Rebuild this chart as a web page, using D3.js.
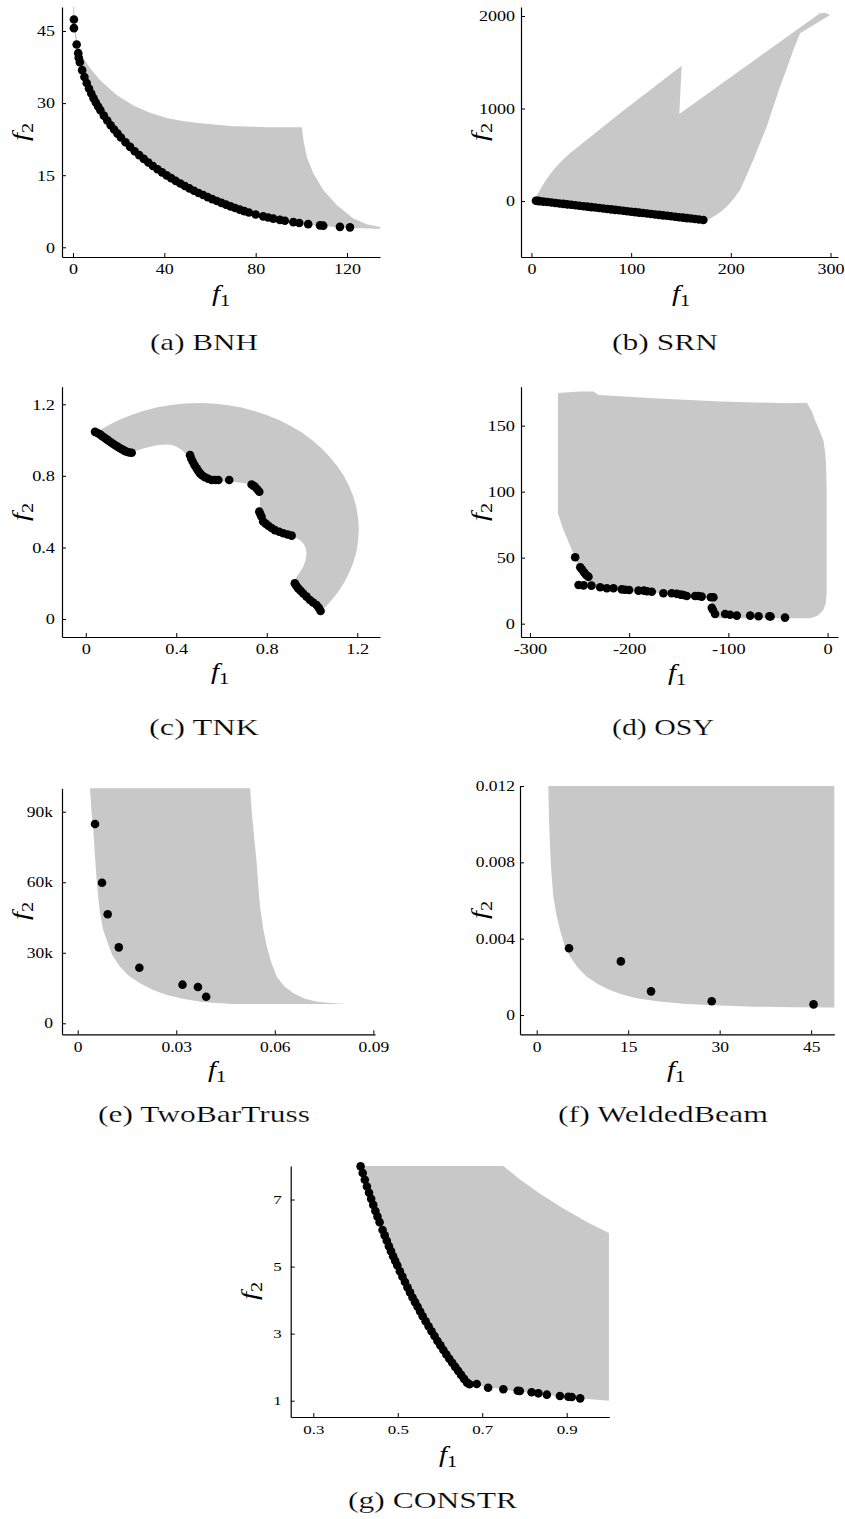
<!DOCTYPE html>
<html lang="en">
<head>
<meta charset="utf-8">
<title>Pareto fronts</title>
<script src="https://d3js.org/d3.v7.min.js"></script>
<style>
  body { margin: 0; background: #fff; }
  svg text { font-family: "Liberation Serif", "Times New Roman", serif; font-weight: normal; fill: #000; }
  .caption { stroke: #fff; stroke-width: 0.2px; }
</style>
</head>
<body>
<div id="viz"></div>
<script>

// ---- data ----

// (a) BNH
var bnhRegion = [[0.4,50],[1.3,44.5],[2,42.5],[3.1,41],[5,39],[7.4,37.3],[11.8,34.8],[19.1,31.7],[26.4,29.5],[33.7,28],[41,26.9],[48,26.3],[55.6,25.8],[70.2,25.2],[84.8,25],[100.2,25],[100.9,22.3],[102.4,18.8],[105.2,15.4],[109.6,11.9],[115.5,8.8],[122.8,6],[128.6,4.8],[134.5,4.2],[134.5,3.8],[122.5,4.05],[110,4.4],[100,4.9],[90,5.7],[80,6.7],[72,8],[60,10.2],[50,12.5],[40,15.3],[30,18.8],[20,23.4],[15,26.4],[10,30.1],[5,35.4],[2,40.5],[0.5,45.1],[0,50]];
var bnhFront = [[0.4,47.4],[0.4,45.6],[1.6,42.2],[2.3,40.4],[2.5,39.45],[3,38.5],[4,36.86],[5,35.43],[6,34.18],[7,33.05],[8,32],[9,31.03],[10,30.14],[11,29.3],[12,28.5],[13.5,27.4],[15,26.37],[16.5,25.4],[18,24.5],[19.5,23.65],[21,22.85],[23,21.84],[25,20.89],[27,20],[29,19.17],[31,18.39],[33,17.63],[35,16.91],[37,16.23],[39,15.59],[41,14.97],[43,14.39],[45,13.81],[47,13.27],[49,12.75],[51,12.25],[53,11.77],[55,11.31],[57,10.87],[59,10.43],[61,10.03],[63,9.63],[65,9.25],[67,8.87],[69,8.51],[71,8.17],[73,7.84],[75,7.53],[77,7.23],[80,6.83],[83.3,6.44],[85.5,6.2],[87.7,5.97],[90.6,5.7],[92.8,5.52],[96.5,5.23],[99.1,5.06],[103,4.82],[108.2,4.56],[109.6,4.5],[116.9,4.25],[121.3,4.15]];

// (b) SRN
var srnRegion = [[5.2,54],[6.5,85],[8.5,119],[14,220],[21.9,335],[30,430],[38.6,516],[88.8,948],[150.7,1463],[148.3,941],[289.4,2030],[294.5,2036],[299.5,2011],[269.4,1813],[262.7,1632],[256,1430],[249.3,1236],[242.6,1020],[236,803],[229,620],[222.5,443],[216,280],[209.2,119],[202.5,20],[195.8,-62],[189,-125],[182.4,-170],[175.8,-213],[172.4,-209],[4.5,-3]];
var srnFront = [[4.5,3],[6,1.1],[8,-1.3],[12,-6.3],[16,-11.2],[20,-16.2],[24,-21.2],[28,-26.1],[32,-31.1],[36,-36],[40,-41],[44,-45.9],[48,-50.9],[52,-55.9],[56,-60.8],[60,-65.8],[64,-70.7],[68,-75.7],[72,-80.6],[76,-85.6],[80,-90.5],[84,-95.5],[88,-100.5],[92,-105.4],[96,-110.4],[100,-115.3],[104,-120.3],[108,-125.2],[112,-130.2],[116,-135.1],[120,-140.1],[124,-145.1],[128,-150],[132,-155],[136,-159.9],[140,-164.9],[144,-169.8],[148,-174.8],[152,-179.8],[156,-184.7],[160,-189.7],[164,-194.6],[168,-199.6],[172.4,-205]];

// (c) TNK: inner wavy edge, then the outer arc
var tnkRegion = [[0.041,1.046],[0.063,1.032],[0.093,1.004],[0.122,0.978],[0.152,0.954],[0.181,0.935],[0.21,0.935],[0.25,0.952],[0.284,0.963],[0.32,0.972],[0.358,0.976],[0.382,0.972],[0.402,0.963],[0.422,0.948],[0.439,0.926],[0.455,0.898],[0.468,0.87],[0.485,0.84],[0.505,0.814],[0.532,0.792],[0.564,0.777],[0.61,0.768],[0.652,0.767],[0.711,0.758],[0.74,0.748],[0.755,0.73],[0.766,0.705],[0.77,0.683],[0.77,0.609],[0.775,0.578],[0.784,0.553],[0.81,0.522],[0.844,0.497],[0.885,0.477],[0.917,0.46],[0.945,0.443],[0.961,0.423],[0.972,0.397],[0.976,0.367],[0.972,0.328],[0.961,0.292],[0.946,0.262],[0.932,0.236],[0.917,0.199],[1.035,0.05],
  [1.042,0.045],[1.079,0.094],[1.112,0.146],[1.141,0.201],[1.164,0.258],[1.183,0.317],[1.196,0.377],[1.204,0.438],[1.207,0.5],[1.204,0.562],[1.196,0.623],[1.183,0.683],[1.164,0.742],[1.141,0.799],[1.112,0.854],[1.079,0.906],[1.042,0.955],[1,1],[0.955,1.042],[0.906,1.079],[0.854,1.112],[0.799,1.141],[0.742,1.164],[0.683,1.183],[0.623,1.196],[0.562,1.204],[0.5,1.207],[0.438,1.204],[0.377,1.196],[0.317,1.183],[0.258,1.164],[0.201,1.141],[0.146,1.112],[0.094,1.079],[0.045,1.042]];
var tnkFront = [[0.041,1.046],[0.052,1.04],[0.063,1.032],[0.073,1.022],[0.083,1.013],[0.093,1.004],[0.103,0.995],[0.112,0.987],[0.122,0.978],[0.132,0.97],[0.142,0.962],[0.152,0.954],[0.162,0.947],[0.172,0.94],[0.181,0.935],[0.192,0.931],[0.203,0.929],
  [0.461,0.916],[0.466,0.897],[0.473,0.879],[0.481,0.86],[0.49,0.842],[0.497,0.828],[0.505,0.814],[0.515,0.802],[0.527,0.792],[0.541,0.784],[0.556,0.777],[0.571,0.777],[0.586,0.777],[0.634,0.777],
  [0.733,0.752],[0.741,0.745],[0.748,0.739],[0.758,0.725],[0.767,0.711],
  [0.767,0.6],[0.772,0.586],[0.777,0.572],[0.784,0.545],[0.795,0.533],[0.807,0.521],[0.821,0.509],[0.836,0.497],[0.855,0.488],[0.873,0.479],[0.892,0.472],[0.91,0.466],
  [0.924,0.199],[0.931,0.185],[0.939,0.171],[0.95,0.157],[0.961,0.143],[0.976,0.125],[0.991,0.106],[1.005,0.092],[1.02,0.078],[1.03,0.062],[1.038,0.045]];

// (d) OSY
var osyRegion = [[-271.8,174.8],[-249.3,175.8],[-236,175.8],[-231,173.3],[-175.5,170.8],[-108.4,168.2],[-41.2,167],[-21,167.4],[-16,161],[-12.7,154.3],[-8,146],[-4.3,139.2],[-2.5,130],[-1.6,121.5],[-0.9,100],[-0.9,83.6],[-0.9,23],[-2,15],[-4.3,10.4],[-10,6],[-17.7,4.1],[-113,4.1],[-116,8],[-117.5,19.5],[-130,20],[-150,21.8],[-180,23.8],[-200,25],[-230,27],[-242.6,29],[-248,37],[-254,49],[-260,60],[-266.2,71],[-271.8,83.6]];
var osyFront = [[-254.4,50.3],[-249.3,42.7],[-247.5,41],[-245.5,39],[-243.5,37],[-241,35.6],[-251,29.3],[-246,29],[-238,28.8],[-229.2,27.6],[-222.5,26.8],[-215.8,26.8],[-207.4,26],[-204,25.7],[-200,25.5],[-190.6,25],[-185,25],[-182,24.5],[-177.2,24.2],[-165.5,23],[-157.1,23],[-152,22.6],[-148,22],[-145.3,21.7],[-142,21],[-133.6,21],[-130.3,21],[-126.9,20.5],[-117.7,20],[-115.1,20],[-116.7,12.1],[-115.5,10.3],[-113.4,7.3],[-103.3,7.3],[-98.3,6.8],[-91.5,6.1],[-78,6.1],[-69.6,5.6],[-58.7,5.6],[-57.5,5.4],[-42.9,4.6]];

// (e) TwoBarTruss
var tbtRegion = [[0.00375,100000],[0.0042,90000],[0.00475,82250],[0.0052,72000],[0.00578,61000],[0.0063,53000],[0.0068,46800],[0.0077,40000],[0.00883,35450],[0.0105,29000],[0.0129,24100],[0.0157,20000],[0.019,17000],[0.0228,14300],[0.0271,12050],[0.032,10400],[0.0373,9200],[0.042,8600],[0.0474,8200],[0.0819,8200],[0.077,8600],[0.0728,9200],[0.069,10600],[0.0657,12750],[0.063,15500],[0.0606,19850],[0.059,25500],[0.0576,32600],[0.0565,40000],[0.0555,49600],[0.055,58000],[0.0545,68100],[0.0538,78000],[0.053,89400],[0.0525,100000]];
var tbtFront = [[0.00527,84800],[0.0074,59800],[0.00913,46400],[0.0125,32300],[0.01877,23650],[0.0319,16430],[0.0366,15450],[0.0391,11320]];

// (f) WeldedBeam
var wbRegion = [[1.9,0.012],[2,0.0105],[2.18,0.00882],[2.4,0.0075],[2.73,0.0062],[3.2,0.0053],[3.82,0.00446],[4.5,0.0037],[5.46,0.00306],[6.7,0.0025],[8.2,0.00201],[10,0.00163],[12,0.00131],[14,0.00107],[16.4,0.000874],[20,0.00071],[24.6,0.000577],[30,0.0005],[35.5,0.000437],[42,0.00041],[48.8,0.0004],[48.8,0.012]];
var wbFront = [[5.3,0.0035],[13.8,0.00281],[18.75,0.00124],[28.7,0.00072],[45.4,0.00056]];

// (g) CONSTR
var conRegion = [[0.412,8],[0.412,7.99],[0.432,7.2],[0.452,6.49],[0.474,5.77],[0.499,5.03],[0.523,4.38],[0.547,3.8],[0.573,3.22],[0.601,2.65],[0.629,2.13],[0.657,1.65],[0.67,1.49],[0.7,1.429],[0.75,1.333],[0.8,1.25],[0.85,1.176],[0.9,1.111],[0.95,1.053],[1,1],[1,6],[0.948,6.33],[0.892,6.73],[0.837,7.17],[0.79,7.59],[0.75,8]];
var conFront = [[0.412,7.99],[0.417,7.79],[0.422,7.59],[0.427,7.39],[0.432,7.2],[0.437,7.02],[0.442,6.84],[0.447,6.66],[0.452,6.49],[0.457,6.32],[0.464,6.09],[0.469,5.93],[0.474,5.77],[0.479,5.61],[0.484,5.46],[0.489,5.31],[0.494,5.17],[0.499,5.03],[0.505,4.86],[0.511,4.7],[0.517,4.54],[0.523,4.38],[0.529,4.23],[0.535,4.08],[0.541,3.94],[0.547,3.8],[0.553,3.66],[0.559,3.52],[0.566,3.37],[0.573,3.22],[0.58,3.07],[0.587,2.93],[0.594,2.78],[0.601,2.65],[0.608,2.51],[0.615,2.38],[0.622,2.25],[0.629,2.13],[0.636,2.01],[0.643,1.89],[0.65,1.77],[0.657,1.65],[0.664,1.54],[0.67,1.49],
  [0.687,1.497],[0.714,1.387],[0.75,1.34],[0.784,1.298],[0.789,1.289],[0.817,1.25],[0.833,1.22],[0.853,1.18],[0.884,1.14],[0.904,1.119],[0.912,1.11],[0.932,1.07]];

// ticks
var bnhXTicks = [0, 40, 80, 120],        bnhYTicks = [0, 15, 30, 45];
var srnXTicks = [0, 100, 200, 300],      srnYTicks = [0, 1000, 2000];
var tnkXTicks = [0, 0.4, 0.8, 1.2],      tnkYTicks = [0, 0.4, 0.8, 1.2];
var osyXTicks = [-300, -200, -100, 0],   osyYTicks = [0, 50, 100, 150];
var tbtXTicks = [0, 0.03, 0.06, 0.09],   tbtYTicks = [0, 30000, 60000, 90000];
var wbXTicks  = [0, 15, 30, 45],         wbYTicks  = [0, 0.004, 0.008, 0.012];
var conXTicks = [0.3, 0.5, 0.7, 0.9],    conYTicks = [1, 3, 5, 7];

var bnhXLabels = ["0","40","80","120"],          bnhYLabels = ["0","15","30","45"];
var srnXLabels = ["0","100","200","300"],        srnYLabels = ["0","1000","2000"];
var tnkXLabels = ["0","0.4","0.8","1.2"],        tnkYLabels = ["0","0.4","0.8","1.2"];
var osyXLabels = ["-300","-200","-100","0"],     osyYLabels = ["0","50","100","150"];
var tbtXLabels = ["0","0.03","0.06","0.09"],     tbtYLabels = ["0","30k","60k","90k"];
var wbXLabels  = ["0","15","30","45"],           wbYLabels  = ["0","0.004","0.008","0.012"];
var conXLabels = ["0.3","0.5","0.7","0.9"],      conYLabels = ["1","3","5","7"];

var captions = ["(a) BNH", "(b) SRN", "(c) TNK", "(d) OSY", "(e) TwoBarTruss", "(f) WeldedBeam", "(g) CONSTR"];

// ---- layout (pixels) ----
var panels = [
  {region: bnhRegion, front: bnhFront, xt: bnhXTicks, yt: bnhYTicks, xl: bnhXLabels, yl: bnhYLabels,
   xd: [-4.82, 134.45], yd: [-2.02, 50.0], box: [62, 380, 7, 257],
   fs: 15, sx: 1.2, xpad: 6, ypad: 7, xlab: [221, 301], ylab: [28, 132], cap: [204, 350, 108]},
  {region: srnRegion, front: srnFront, xt: srnXTicks, yt: srnYTicks, xl: srnXLabels, yl: srnYLabels,
   xd: [-10.5, 307.5], yd: [-605, 2097], box: [521, 838, 7, 257],
   fs: 15, sx: 1.2, xpad: 6, ypad: 6, xlab: [681, 301], ylab: [487, 132], cap: [665, 350, 106]},
  {region: tnkRegion, front: tnkFront, xt: tnkXTicks, yt: tnkYTicks, xl: tnkXLabels, yl: tnkYLabels,
   xd: [-0.105, 1.3005], yd: [-0.1006, 1.2985], box: [62, 380, 386.7, 637],
   fs: 15, sx: 1.22, xpad: 6, ypad: 7, xlab: [220, 679], ylab: [28, 512], cap: [204, 735, 110]},
  {region: osyRegion, front: osyFront, xt: osyXTicks, yt: osyYTicks, xl: osyXLabels, yl: osyYLabels,
   xd: [-309, 10.5], yd: [-10.1, 179.5], box: [521, 838, 386.7, 637],
   fs: 15, sx: 1.22, xpad: 6, ypad: 6, xlab: [677, 680], ylab: [487, 512], cap: [663, 735, 102]},
  {region: tbtRegion, front: tbtFront, xt: tbtXTicks, yt: tbtYTicks, xl: tbtXLabels, yl: tbtYLabels,
   xd: [-0.00478, 0.0905], yd: [-4680, 99960], box: [62, 375, 788.3, 1034.3],
   fs: 14, sx: 1.25, xpad: 7.5, ypad: 9, xlab: [217, 1077], ylab: [28, 911], cap: [204, 1122, 212]},
  {region: wbRegion, front: wbFront, xt: wbXTicks, yt: wbYTicks, xl: wbXLabels, yl: wbYLabels,
   xd: [-2.74, 48.8], yd: [-0.00101, 0.012], box: [520, 834.3, 786, 1034.3],
   fs: 14, sx: 1.25, xpad: 7.5, ypad: 5, xlab: [676, 1077], ylab: [487, 910], cap: [663, 1122, 210]},
  {region: conRegion, front: conFront, xt: conXTicks, yt: conYTicks, xl: conXLabels, yl: conYLabels,
   xd: [0.2465, 1.0009], yd: [0.514, 8.0], box: [290.7, 609.3, 1166, 1417],
   fs: 13, sx: 1.3, xpad: 8, ypad: 9, xlab: [448, 1462], ylab: [257, 1291], cap: [432.5, 1508, 169]}
];

var svg = d3.select("#viz")
  .append("svg")
    .attr("width", 845)
    .attr("height", 1519);

panels.forEach(function(p, i) {
  var x = d3.scaleLinear().domain(p.xd).range([p.box[0], p.box[1]]);
  var y = d3.scaleLinear().domain(p.yd).range([p.box[3], p.box[2]]);
  var g = svg.append("g");

  // feasible region
  var line = d3.line()
    .x(function(d) { return x(d[0]); })
    .y(function(d) { return y(d[1]); });
  g.append("path")
    .attr("d", line(p.region) + "Z")
    .attr("fill", "#c8c8c8")
    .attr("stroke", "none");

  // pareto front points
  g.append("g").selectAll("circle")
    .data(p.front)
    .enter().append("circle")
      .attr("cx", function(d) { return x(d[0]); })
      .attr("cy", function(d) { return y(d[1]); })
      .attr("r", 4.3)
      .attr("fill", "#000");

  // axes
  var xa = g.append("g")
    .attr("transform", "translate(0," + p.box[3] + ")")
    .call(d3.axisBottom(x).tickValues(p.xt).tickSizeInner(-4).tickSizeOuter(0).tickPadding(p.xpad)
      .tickFormat(function(d, k) { return p.xl[k]; }));
  xa.selectAll("text")
    .attr("transform", "scale(" + p.sx + ",1)")
    .style("font-size", p.fs + "px");

  var ya = g.append("g")
    .attr("transform", "translate(" + p.box[0] + ",0)")
    .call(d3.axisLeft(y).tickValues(p.yt).tickSizeInner(-4).tickSizeOuter(0)
      .tickFormat(function(d, k) { return p.yl[k]; }));
  ya.selectAll("text")
    .attr("x", 0)
    .attr("transform", "translate(" + (-p.ypad) + ",0) scale(" + p.sx + ",1)")
    .style("font-size", p.fs + "px");

  [xa, ya].forEach(function(a) {
    a.attr("font-family", null).attr("font-size", null);
    a.select(".domain").attr("stroke-width", 1.2);
  });

  // axis titles
  var t1 = g.append("text")
    .attr("transform", "translate(" + p.xlab[0] + "," + p.xlab[1] + ") scale(1.2,1)")
    .attr("text-anchor", "middle")
    .style("font-size", "24px");
  t1.append("tspan").style("font-style", "italic").text("f");
  t1.append("tspan").attr("dy", 5).style("font-size", "17px").text("1");

  var t2 = g.append("text")
    .attr("transform", "translate(" + p.ylab[0] + "," + p.ylab[1] + ") rotate(-90) scale(1.2,1)")
    .attr("text-anchor", "middle")
    .style("font-size", "24px");
  t2.append("tspan").style("font-style", "italic").text("f");
  t2.append("tspan").attr("dy", 5).style("font-size", "17px").text("2");

  // caption
  svg.append("text")
    .attr("class", "caption")
    .attr("x", p.cap[0])
    .attr("y", p.cap[1])
    .attr("text-anchor", "middle")
    .attr("textLength", p.cap[2])
    .attr("lengthAdjust", "spacingAndGlyphs")
    .style("font-size", "24px")
    .text(captions[i]);
});

</script>
</body>
</html>
